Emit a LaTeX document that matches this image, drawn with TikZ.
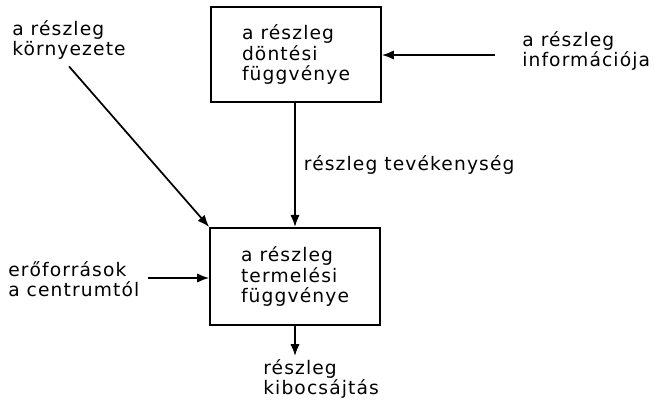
\documentclass[tikz,border=0pt]{standalone}
\usepackage{fontspec}
\setmainfont[LetterSpace=6]{DejaVu Sans}
\usetikzlibrary{arrows.meta}
\tikzset{
    blocknode/.style = {
        align=left,
        rectangle,
        draw=black,
        line width=1.3pt,
        minimum width=127.5pt,
        minimum height=71.5pt,
        inner sep=1mm,
        font=\fontsize{14}{15.5}\selectfont
    },
    labelnode/.style = {
        align=left,
        anchor=west,
        inner sep=0pt,
        font=\fontsize{14}{15}\selectfont
    },
    flow/.style = {
        -{Latex[length=9pt,width=7pt]},
        line width=1.3pt
    }
}
\begin{document}
\begin{tikzpicture}[x=0.75pt,y=-0.75pt]
    \useasboundingbox (0,0) rectangle (660,408);
    \node [blocknode] (dontes) at (296,54.5) {a részleg\\döntési\\függvénye};
    \node [blocknode, minimum height=73pt] (termeles) at (295,276.5) {a részleg\\termelési\\függvénye};
    \node [labelnode] (kornyezet) at (12,40) {a részleg\\környezete};
    \node [labelnode] (info) at (522,51) {a részleg\\információja};
    \node [labelnode] (forras) at (8,279) {erőforrások\\a centrumtól};
    \node [labelnode] (kibocs) at (263,379) {részleg\\kibocsájtás};
    \coordinate (infoend) at (495,55);
    \coordinate (forrasend) at (148,278);
    \coordinate (kibocsend) at (293,356);
    \draw [flow] (infoend) -- (dontes.east |- infoend);
    \draw [flow] (dontes.south -| termeles.north) -- node [labelnode, right=6pt] (tevek) {részleg tevékenység} (termeles.north);
    \draw [flow] ([yshift=-5pt]kornyezet.south) -- (termeles.north west);
    \draw [flow] (forrasend) -- (termeles.west |- forrasend);
    \draw [flow] (termeles.south) -- (termeles.south |- kibocsend);
\end{tikzpicture}
\end{document}
